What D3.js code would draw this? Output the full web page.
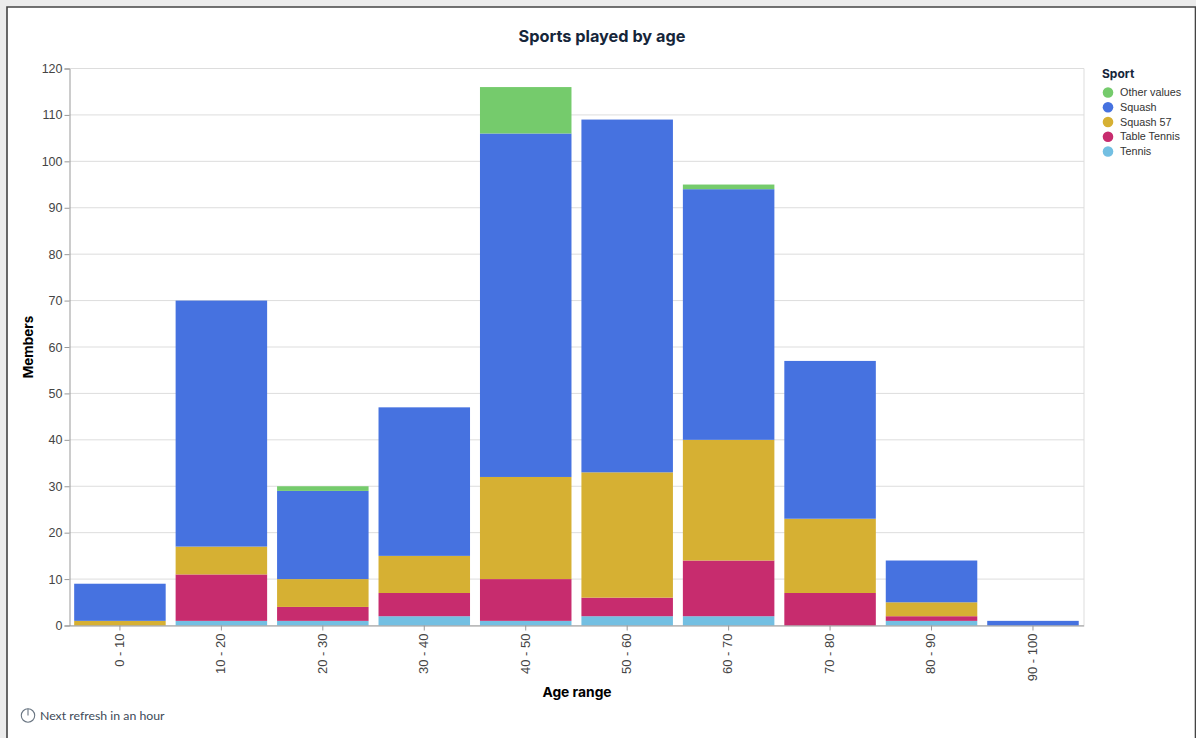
<!DOCTYPE html>
<html>
<head>
<meta charset="utf-8">
<script src="https://cdn.jsdelivr.net/npm/d3@7"></script>
<style>
  html, body { margin: 0; padding: 0; background: #fff; overflow: hidden; }
  text { font-family: "Liberation Sans", sans-serif; }
  .heading { font-family: Inter, sans-serif; font-weight: 700; }
</style>
</head>
<body>
<div id="chart"></div>
<script>
const ageRanges = ["0 - 10", "10 - 20", "20 - 30", "30 - 40", "40 - 50", "50 - 60", "60 - 70", "70 - 80", "80 - 90", "90 - 100"];
const sports = ["Tennis", "Table Tennis", "Squash 57", "Squash", "Other values"];
const legendOrder = ["Other values", "Squash", "Squash 57", "Table Tennis", "Tennis"];
const sportColors = ["#73bfe2", "#c72c6e", "#d6b033", "#4672e0", "#75cb6c"];

const tennis = [0, 1, 1, 2, 1, 2, 2, 0, 1, 0];
const tableTennis = [0, 10, 3, 5, 9, 4, 12, 7, 1, 0];
const squash57 = [1, 6, 6, 8, 22, 27, 26, 16, 3, 0];
const squash = [8, 53, 19, 32, 74, 76, 54, 34, 9, 1];
const otherValues = [0, 0, 1, 0, 10, 0, 1, 0, 0, 0];
const yTicks = [0, 10, 20, 30, 40, 50, 60, 70, 80, 90, 100, 110, 120];

const rows = ageRanges.map((age, i) => ({
  age: age,
  "Tennis": tennis[i],
  "Table Tennis": tableTennis[i],
  "Squash 57": squash57[i],
  "Squash": squash[i],
  "Other values": otherValues[i]
}));

// set the dimensions and margins of the graph
const margin = { top: 68.5, left: 69.5 };
const width = 1014.5, height = 557;

const svg = d3.select("#chart").append("svg")
  .attr("width", 1196)
  .attr("height", 738)
  .style("display", "block");

// page background and window frame
svg.append("rect").attr("width", 1196).attr("height", 738).attr("fill", "#ececec");
svg.append("rect").attr("x", 7).attr("y", 7).attr("width", 1188).attr("height", 731)
  .attr("fill", "#fff");
svg.append("path").attr("d", "M7,738V7H1195.5V738")
  .attr("fill", "none").attr("stroke", "#444").attr("stroke-width", 1.6);

const g = svg.append("g").attr("transform", `translate(${margin.left},${margin.top})`);

const x = d3.scaleBand().domain(ageRanges).range([-0.3, width - 0.3]).paddingInner(0.098).paddingOuter(0.049);
const y = d3.scaleLinear().domain([0, 120]).range([height, 0]);
const color = d3.scaleOrdinal().domain(sports).range(sportColors);

// grid
g.append("g").selectAll("line").data(yTicks).join("line")
  .attr("x1", 0).attr("x2", width)
  .attr("y1", d => y(d)).attr("y2", d => y(d))
  .attr("stroke", "#ddd");
g.append("line").attr("x1", width).attr("x2", width).attr("y1", 0).attr("y2", height)
  .attr("stroke", "#ddd");

// bars
const stacked = d3.stack().keys(sports)(rows);
g.append("g").selectAll("g").data(stacked).join("g")
  .attr("fill", d => color(d.key))
  .selectAll("rect").data(d => d).join("rect")
  .attr("x", d => x(d.data.age))
  .attr("width", x.bandwidth())
  .attr("y", d => y(d[1]))
  .attr("height", d => y(d[0]) - y(d[1]));

// axes
const yAxis = g.append("g").call(d3.axisLeft(y).tickValues(yTicks).tickSize(5).tickPadding(2));
yAxis.select(".domain").attr("stroke", "#999");
yAxis.selectAll(".tick line").attr("stroke", "#999");
yAxis.selectAll("text").attr("font-size", 12.5).attr("fill", "#444").style("font-family", "Liberation Sans");

const xAxis = g.append("g").attr("transform", `translate(0,${height})`)
  .call(d3.axisBottom(x).tickSize(5).tickPadding(2).tickSizeOuter(0));
xAxis.select(".domain").attr("stroke", "#999");
xAxis.selectAll(".tick line").attr("stroke", "#999");
xAxis.selectAll("text")
  .attr("font-size", 13).attr("fill", "#444").style("font-family", "Liberation Sans")
  .attr("text-anchor", "end")
  .attr("x", 0).attr("y", 0)
  .attr("dy", "0.33em")
  .attr("transform", "translate(-0.5,8) rotate(-90)");

// titles
svg.append("text").attr("class", "heading")
  .attr("x", 602).attr("y", 41.5).attr("text-anchor", "middle")
  .attr("font-size", 16.3).attr("fill", "#16263a").text("Sports played by age");
svg.append("text").attr("class", "heading")
  .attr("x", 577).attr("y", 696.5).attr("text-anchor", "middle")
  .attr("font-size", 13.8).attr("fill", "#000").text("Age range");
svg.append("text").attr("class", "heading")
  .attr("transform", "translate(33,347) rotate(-90)").attr("text-anchor", "middle")
  .attr("font-size", 13.5).attr("fill", "#000").text("Members");

// legend
const legend = svg.append("g").attr("transform", "translate(1102,0)");
legend.append("text").attr("class", "heading")
  .attr("x", 0).attr("y", 78).attr("font-size", 12).attr("fill", "#16263a").text("Sport");
const rowY = d3.scalePoint().domain(legendOrder).range([92.5, 151.5]);
const items = legend.selectAll(".item").data(legendOrder).join("g")
  .attr("class", "item")
  .attr("transform", d => `translate(0,${rowY(d)})`);
items.append("circle").attr("cx", 6).attr("r", 5.3).attr("fill", d => color(d));
items.append("text").attr("x", 18).attr("dy", "0.33em")
  .attr("font-size", 10.8).attr("fill", "#333").text(d => d);

// refresh note
const note = svg.append("g").attr("transform", "translate(28,715.5)");
note.append("circle").attr("r", 6.7).attr("fill", "none").attr("stroke", "#6a7683").attr("stroke-width", 1.1);
note.append("line").attr("y1", -6.7).attr("y2", 0).attr("stroke", "#6a7683").attr("stroke-width", 1.1);
note.append("text").attr("class", "note").attr("x", 12).attr("y", 0.5).attr("dy", "0.33em")
  .style("font-family", "Lato").attr("font-size", 12.3).attr("fill", "#3d4a58").text("Next refresh in an hour");
</script>
</body>
</html>
